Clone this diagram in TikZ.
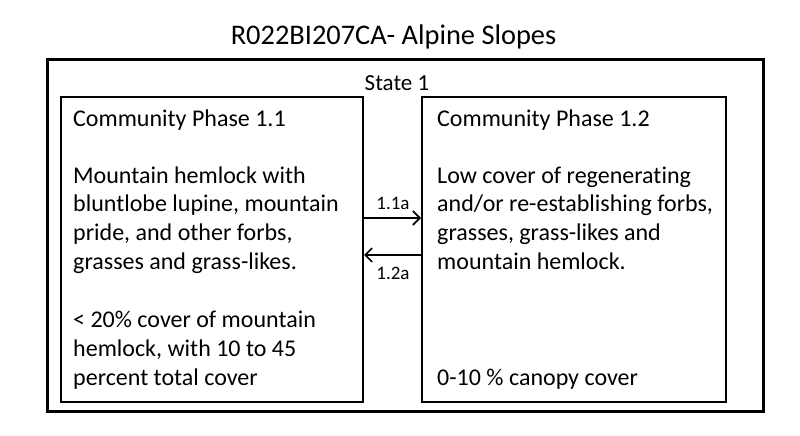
\documentclass[tikz,border=0pt]{standalone}
\usepackage{fontspec}
\setmainfont{Carlito}[RawFeature={-liga}]
\usetikzlibrary{arrows.meta}
\begin{document}
\begin{tikzpicture}[x=1pt,y=-1pt,
  body/.style={font=\fontsize{24}{28.8}\selectfont, anchor=base west, inner sep=0pt, align=left},
  phasebox/.style={draw, line width=2pt, minimum width=#1, minimum height=305pt, inner sep=0pt},
  arr/.style={line width=2pt, -{Straight Barb[length=7pt,width=14pt,line width=1.6pt]}},
  lab/.style={font=\fontsize{19}{22}\selectfont, anchor=base, inner sep=0pt}]
\useasboundingbox (0,0) rectangle (800,436);
\node[font=\fontsize{28.4}{34}\selectfont, anchor=base, inner sep=0pt] (title) at (393.5,45) {R022BI207CA- Alpine Slopes};
\node[draw, line width=3pt, minimum width=715.5pt, minimum height=351pt, inner sep=0pt] (state) at (405.25,235.5) {};
\node[font=\fontsize{23}{28}\selectfont, anchor=base, inner sep=0pt] (statelab) at (397,90) {State 1};
\node[phasebox=302pt] (p11) at (212,249.5) {};
\node[phasebox=304pt] (p12) at (574,249.5) {};
\node[body] (h11) at (73,126) {Community Phase 1.1};
\node[body] (b11) at (73,269.4) {Mountain hemlock with\\bluntlobe lupine, mountain\\pride, and other forbs,\\grasses and grass-likes.};
\node[body] (c11) at (73,385) {< 20\% cover of mountain\\hemlock, with 10 to 45\\percent total cover};
\node[body] (h12) at (437,126) {Community Phase 1.2};
\node[body] (b12) at (437,269.4) {Low cover of regenerating\\and/or re-establishing forbs,\\grasses, grass-likes and\\mountain hemlock.};
\node[body] (c12) at (437,385) {0-10 \% canopy cover};
\coordinate (ya) at (0,218);
\coordinate (yb) at (0,255);
\draw[arr] (p11.east |- ya) -- (p12.west |- ya);
\draw[arr] (p12.west |- yb) -- (p11.east |- yb);
\node[lab] (l1) at (393,209) {1.1a};
\node[lab] (l2) at (393,279) {1.2a};
\end{tikzpicture}
\end{document}
